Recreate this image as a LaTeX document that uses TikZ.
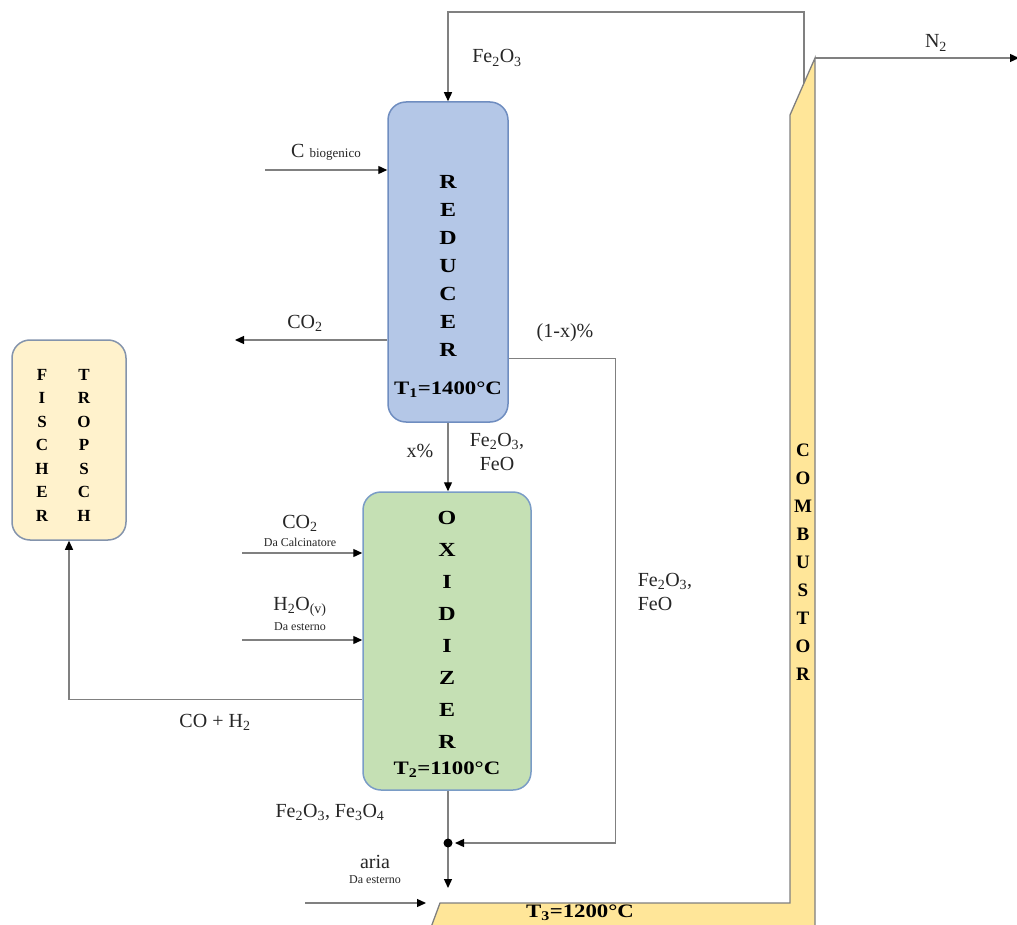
\documentclass[tikz,border=0pt]{standalone}
\usepackage{fontspec}
\setmainfont{Liberation Serif}
\newfontfamily\boxfont{Liberation Serif}[FakeStretch=1.2]
\usetikzlibrary{arrows.meta,calc}
\definecolor{redfill}{HTML}{B4C7E7}
\definecolor{redline}{HTML}{6F8DC0}
\definecolor{oxfill}{HTML}{C5E0B4}
\definecolor{oxline}{HTML}{7A9CC6}
\definecolor{ftfill}{HTML}{FFF2CC}
\definecolor{ftline}{HTML}{8494AC}
\definecolor{cbfill}{HTML}{FFE699}
\definecolor{cbline}{HTML}{7F7F7F}
\definecolor{wire}{HTML}{808080}
\definecolor{txt}{HTML}{262626}
\begin{document}
\begin{tikzpicture}[x=1pt,y=-1pt,
  wireline/.style={draw=wire, line width=1.3pt},
  arr/.style={wireline, -{Triangle[length=9pt,width=8pt,color=black]}},
  unit/.style={rounded corners=18pt, line width=1.5pt, inner sep=0pt},
  lbl/.style={text=txt, font=\fontsize{20}{24}\selectfont, inner sep=0pt},
  small/.style={text=txt, font=\fontsize{12}{14}\selectfont, inner sep=0pt},
  letters/.style={align=center, inner sep=0pt, text=black},
]
\useasboundingbox (0,0) rectangle (1017,925);

% units
\node[unit, fill=redfill, draw=redline, minimum width=120pt, minimum height=320pt] (red) at (448,262) {};
\node[unit, fill=oxfill, draw=oxline, minimum width=168pt, minimum height=298pt] (ox) at (447,641) {};
\node[unit, fill=ftfill, draw=ftline, minimum width=114pt, minimum height=200pt] (ft) at (69,440) {};

% combustor
\coordinate (cbtop) at (815,58);
\path[draw=cbline, fill=cbfill, line width=1.3pt] (cbtop) -- (815,930) -- (430,930) -- (440,903) -- (790,903) -- (790,115) -- cycle;

% box texts
\node[letters, font=\boxfont\bfseries\fontsize{20}{28}\selectfont] (redtxt) at (448,266) {R\\E\\D\\U\\C\\E\\R};
\node[letters, font=\boxfont\bfseries\fontsize{19}{22}\selectfont] (redT) at (448,390) {T\textsubscript{1}=1400°C};
\node[letters, font=\boxfont\bfseries\fontsize{20}{32}\selectfont] (oxtxt) at (447,630) {O\\X\\I\\D\\I\\Z\\E\\R};
\node[letters, font=\boxfont\bfseries\fontsize{19}{22}\selectfont] (oxT) at (447,770) {T\textsubscript{2}=1100°C};
\node[letters, font=\bfseries\fontsize{17}{23.5}\selectfont] (ftl) at (42,445) {F\\I\\S\\C\\H\\E\\R};
\node[letters, font=\bfseries\fontsize{17}{23.5}\selectfont] (ftr) at (84,445) {T\\R\\O\\P\\S\\C\\H};
\node[letters, font=\bfseries\fontsize{19}{28}\selectfont] (cbtxt) at (803,562) {C\\O\\M\\B\\U\\S\\T\\O\\R};
\node[letters, font=\boxfont\bfseries\fontsize{19}{22}\selectfont] (cbT) at (580,913) {T\textsubscript{3}=1200°C};

% N2 outlet
\coordinate (n2end) at (1019,58);
\draw[arr] (cbtop) -- (n2end);
\node[lbl] (n2) at (936,43) {N\textsubscript{2}};

% Fe2O3 recycle to reducer
\coordinate (loopstart) at (804,83);
\draw[arr] (loopstart) -- ++(0,-71) -| (red.north);
\node[lbl] (fe2o3top) at (497,58) {Fe\textsubscript{2}O\textsubscript{3}};

% C biogenico
\coordinate (cbs) at (265,170);
\draw[arr] (cbs) -- (cbs -| red.west);
\node[lbl] (cbio) at (326,152) {C {\fontsize{13}{15}\selectfont biogenico}};

% CO2 out of reducer
\coordinate (co2end) at (235,340);
\draw[arr] (co2end -| red.west) -- (co2end);
\node[lbl] (co2r) at (305,323) {CO\textsubscript{2}};

% reducer -> oxidizer
\draw[arr] (red.south) -- (ox.north -| red.south);
\node[lbl] (xp) at (420,451) {x\%};
\node[lbl, align=center] (fe1) at (497,452) {Fe\textsubscript{2}O\textsubscript{3},\\FeO};

% junction and (1-x)% bypass
\coordinate (jn) at (448,843);
\coordinate (cbin) at (448,888);
\coordinate (redout) at ($(red.south east)+(0,-64)$);
\draw[arr] (redout) -- ++(107,0) |- ($(jn)+(7,0)$);
\node[lbl] (oneminus) at (565,333) {(1-x)\%};
\node[lbl, align=left] (fe2) at (665,592) {Fe\textsubscript{2}O\textsubscript{3},\\FeO};

% oxidizer inputs
\coordinate (cos) at (242,553);
\draw[arr] (cos) -- (cos -| ox.west);
\node[lbl] (co2c) at (300,523) {CO\textsubscript{2}};
\node[small] (dacalc) at (300,542) {Da Calcinatore};
\coordinate (hs) at (242,640);
\draw[arr] (hs) -- (hs -| ox.west);
\node[lbl] (h2o) at (300,607) {H\textsubscript{2}O\textsubscript{(v)}};
\node[small] (daest1) at (300,627) {Da esterno};

% syngas to Fischer-Tropsch
\coordinate (syn) at ($(ox.north west)+(0,208)$);
\draw[arr] (syn) -| (ft.south);
\node[lbl] (coh2) at (215,722) {CO + H\textsubscript{2}};

% oxidizer -> combustor
\draw[wireline] (jn |- ox.south) -- (jn);
\draw[arr] (jn) -- (cbin);
\fill (jn) circle (4.5pt);
\node[lbl] (fe3) at (330,812) {Fe\textsubscript{2}O\textsubscript{3}, Fe\textsubscript{3}O\textsubscript{4}};

% air
\coordinate (ariaS) at (305,903);
\coordinate (ariaE) at (426,903);
\draw[arr] (ariaS) -- (ariaE);
\node[lbl] (aria) at (375,862) {aria};
\node[small] (daest2) at (375,880) {Da esterno};
\end{tikzpicture}
\end{document}
